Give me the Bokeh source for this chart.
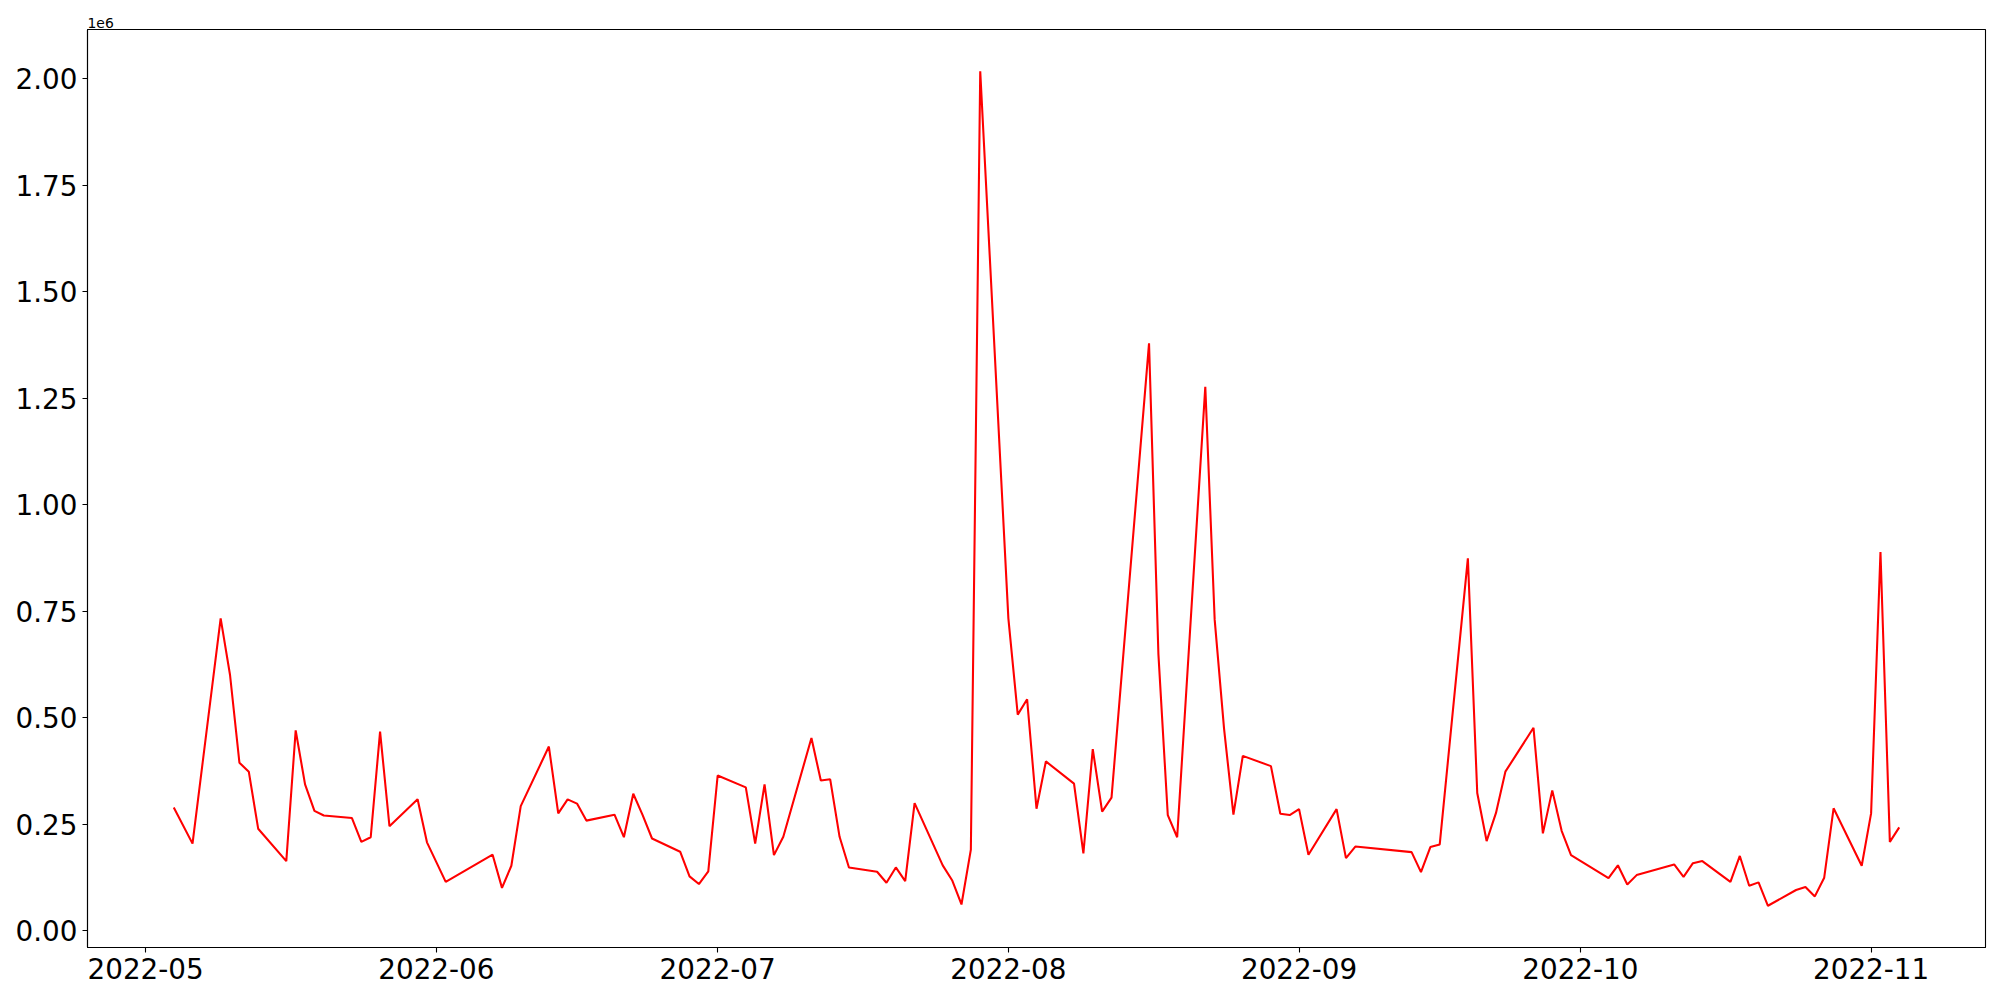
import pandas as pd
from bokeh.plotting import figure
from bokeh.models import Range1d, FixedTicker, CustomJSTickFormatter, DatetimeTickFormatter
from bokeh.embed import file_html
from bokeh.resources import INLINE

dates = [
    "2022-05-04", "2022-05-06", "2022-05-09", "2022-05-10", "2022-05-11", "2022-05-12", "2022-05-13",
    "2022-05-16", "2022-05-17", "2022-05-18", "2022-05-19", "2022-05-20", "2022-05-23", "2022-05-24",
    "2022-05-25", "2022-05-26", "2022-05-27", "2022-05-30", "2022-05-31", "2022-06-02", "2022-06-07",
    "2022-06-08", "2022-06-09", "2022-06-10", "2022-06-13", "2022-06-14", "2022-06-15", "2022-06-16",
    "2022-06-17", "2022-06-20", "2022-06-21", "2022-06-22", "2022-06-23", "2022-06-24", "2022-06-27",
    "2022-06-28", "2022-06-29", "2022-06-30", "2022-07-01", "2022-07-04", "2022-07-05", "2022-07-06",
    "2022-07-07", "2022-07-08", "2022-07-11", "2022-07-12", "2022-07-13", "2022-07-14", "2022-07-15",
    "2022-07-18", "2022-07-19", "2022-07-20", "2022-07-21", "2022-07-22", "2022-07-25", "2022-07-26",
    "2022-07-27", "2022-07-28", "2022-07-29", "2022-08-01", "2022-08-02", "2022-08-03", "2022-08-04",
    "2022-08-05", "2022-08-08", "2022-08-09", "2022-08-10", "2022-08-11", "2022-08-12", "2022-08-16",
    "2022-08-17", "2022-08-18", "2022-08-19", "2022-08-22", "2022-08-23", "2022-08-24", "2022-08-25",
    "2022-08-26", "2022-08-29", "2022-08-30", "2022-08-31", "2022-09-01", "2022-09-02", "2022-09-05",
    "2022-09-06", "2022-09-07", "2022-09-13", "2022-09-14", "2022-09-15", "2022-09-16", "2022-09-19",
    "2022-09-20", "2022-09-21", "2022-09-22", "2022-09-23", "2022-09-26", "2022-09-27", "2022-09-28",
    "2022-09-29", "2022-09-30", "2022-10-04", "2022-10-05", "2022-10-06", "2022-10-07", "2022-10-11",
    "2022-10-12", "2022-10-13", "2022-10-14", "2022-10-17", "2022-10-18", "2022-10-19", "2022-10-20",
    "2022-10-21", "2022-10-24", "2022-10-25", "2022-10-26", "2022-10-27", "2022-10-28", "2022-10-31",
    "2022-11-01", "2022-11-02", "2022-11-03", "2022-11-04",
]

volume = [
    289000, 204000, 733000, 600000, 394000, 373000, 239000,
    163000, 470000, 343000, 281000, 270000, 264000, 208000,
    219000, 467000, 245000, 308000, 207000, 114000, 178000,
    100000, 152000, 292000, 432000, 275000, 308000, 298000,
    258000, 272000, 219000, 321000, 271000, 216000, 185000,
    127000, 109000, 139000, 364000, 336000, 204000, 343000,
    177000, 220000, 452000, 352000, 355000, 220000, 148000,
    138000, 112000, 148000, 116000, 299000, 153000, 118000,
    61000, 190000, 2018000, 733000, 507000, 543000, 286000,
    397000, 345000, 181000, 426000, 279000, 312000, 1379000,
    649000, 271000, 219000, 1277000, 730000, 474000, 272000,
    410000, 386000, 274000, 271000, 285000, 178000, 285000,
    170000, 197000, 184000, 137000, 196000, 202000, 874000,
    323000, 210000, 276000, 373000, 476000, 228000, 329000,
    234000, 177000, 123000, 153000, 108000, 130000, 155000,
    126000, 158000, 163000, 114000, 175000, 105000, 113000,
    58000, 95000, 102000, 80000, 124000, 287000, 152000,
    275000, 889000, 208000, 242000,
]

month_ticks = ["2022-05-01", "2022-06-01", "2022-07-01", "2022-08-01",
               "2022-09-01", "2022-10-01", "2022-11-01"]
y_ticks = [0, 250000, 500000, 750000, 1000000, 1250000, 1500000, 1750000, 2000000]
offset_text = "1e6"

x = pd.to_datetime(dates)
x_span = x.max() - x.min()
x_start = x.min() - 0.05 * x_span
x_end = x.max() + 0.05 * x_span
y_min, y_max = min(volume), max(volume)
y_span = y_max - y_min
y_start = y_min - 0.05 * y_span
y_end = y_max + 0.05 * y_span

p = figure(
    x_axis_type="datetime",
    frame_width=1898, frame_height=918,
    min_border_left=87, min_border_right=7, min_border_top=29, min_border_bottom=44,
    x_range=Range1d(x_start, x_end), y_range=Range1d(y_start, y_end),
    output_backend="svg", toolbar_location=None,
    background_fill_color="white", border_fill_color="white",
    title=offset_text,
)

p.title.text_font = "DejaVu Sans"
p.title.text_font_size = "13.9px"
p.title.text_font_style = "normal"
p.title.text_color = "black"
p.title.align = "left"
p.title.standoff = 3
p.title.offset = 0

p.line(x, volume, line_color="#ff0000", line_width=2.08)

p.grid.visible = False
p.outline_line_color = "black"
p.outline_line_width = 1.1

tick_ms = [pd.Timestamp(d).value / 1e6 for d in month_ticks]
p.xaxis.ticker = FixedTicker(ticks=tick_ms)
p.xaxis.formatter = DatetimeTickFormatter(
    milliseconds="%Y-%m", seconds="%Y-%m", minsec="%Y-%m", minutes="%Y-%m",
    hourmin="%Y-%m", hours="%Y-%m", days="%Y-%m", months="%Y-%m", years="%Y-%m")
p.yaxis.ticker = FixedTicker(ticks=y_ticks)
p.yaxis.formatter = CustomJSTickFormatter(code="return (tick / 1e6).toFixed(2);")

for ax in (p.xaxis, p.yaxis):
    ax.axis_line_color = "black"
    ax.axis_line_width = 1.1
    ax.major_tick_line_color = "black"
    ax.major_tick_line_width = 1.1
    ax.major_tick_out = 5
    ax.major_tick_in = 0
    ax.minor_tick_line_color = None
    ax.major_label_text_font = "DejaVu Sans"
    ax.major_label_text_font_size = "27.8px"
    ax.major_label_text_color = "black"
    ax.major_label_standoff = 5

open("out.html", "w").write(file_html(p, INLINE))
